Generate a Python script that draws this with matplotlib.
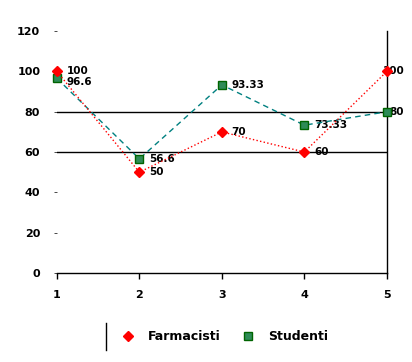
import numpy as np
from matplotlib import pyplot as plt
from matplotlib.lines import Line2D

# data
x = [1, 2, 3, 4, 5]
farmacisti = [100, 50, 70, 60, 100]
studenti = [96.6, 56.6, 93.33, 73.33, 80]
farm_labels = ["100", "50", "70", "60", "100"]
stud_labels = ["96.6", "56.6", "93.33", "73.33", "80"]
yticks = [0, 20, 40, 60, 80, 100, 120]
gridvals = [60, 80]

fig = plt.figure(figsize=(4.12, 3.62), dpi=100)
ax = fig.add_axes([0.138, 0.246, 0.801, 0.668])

for g in gridvals:
    ax.axhline(g, color="black", lw=1, zorder=1)

ax.plot(x, studenti, color="#008080", lw=1, ls=(0, (4, 3)), marker="s", ms=6,
        mfc="#2e8b57", mec="#006400", clip_on=False, zorder=3, label="Studenti")
ax.plot(x, farmacisti, color="red", lw=1, ls=":", marker="D", ms=5,
        mfc="red", mec="red", clip_on=False, zorder=4, label="Farmacisti")

# value labels
for i, (xi, yi, t) in enumerate(zip(x, farmacisti, farm_labels)):
    dx = -3 if i == len(x) - 1 else 7
    ax.annotate(t, (xi, yi), xytext=(dx, 0), textcoords="offset points",
                va="center", ha="left", fontsize=7.5, fontweight="bold",
                zorder=2, annotation_clip=False)
for i, (xi, yi, t) in enumerate(zip(x, studenti, stud_labels)):
    dx = 2 if i == len(x) - 1 else 7
    dy = -3 if i == 0 else 0
    ax.annotate(t, (xi, yi), xytext=(dx, dy), textcoords="offset points",
                va="center", ha="left", fontsize=7.5, fontweight="bold",
                zorder=2, annotation_clip=False)

ax.set_xlim(1, 5)
ax.set_ylim(0, 120)
ax.set_xticks(x)
ax.set_yticks(yticks)
ax.spines["top"].set_visible(False)
ax.spines["left"].set_visible(False)
ax.spines["bottom"].set_linewidth(1)
ax.spines["right"].set_linewidth(1)
ax.tick_params(axis="y", length=2, width=0.5, pad=10, labelsize=8)
ax.tick_params(axis="x", length=4, width=1, pad=8, labelsize=8)
for lab in ax.get_xticklabels() + ax.get_yticklabels():
    lab.set_fontweight("bold")

# legend
handles = [Line2D([], [], ls="none", marker="D", ms=5, color="red"),
           Line2D([], [], ls="none", marker="s", ms=6, mfc="#2e8b57", mec="#006400")]
fig.legend(handles, ["Farmacisti", "Studenti"], loc="center left", ncol=2,
           bbox_to_anchor=(115 / 412, 1 - 337 / 362), frameon=False,
           borderpad=0, borderaxespad=0,
           prop={"weight": "bold", "size": 9}, handlelength=2.0,
           handletextpad=0.6, columnspacing=1.25)
fig.add_artist(Line2D([106 / 412, 106 / 412], [1 - 350 / 362, 1 - 323 / 362],
                      color="black", lw=1, transform=fig.transFigure))

fig.savefig("out.png", dpi=100)
